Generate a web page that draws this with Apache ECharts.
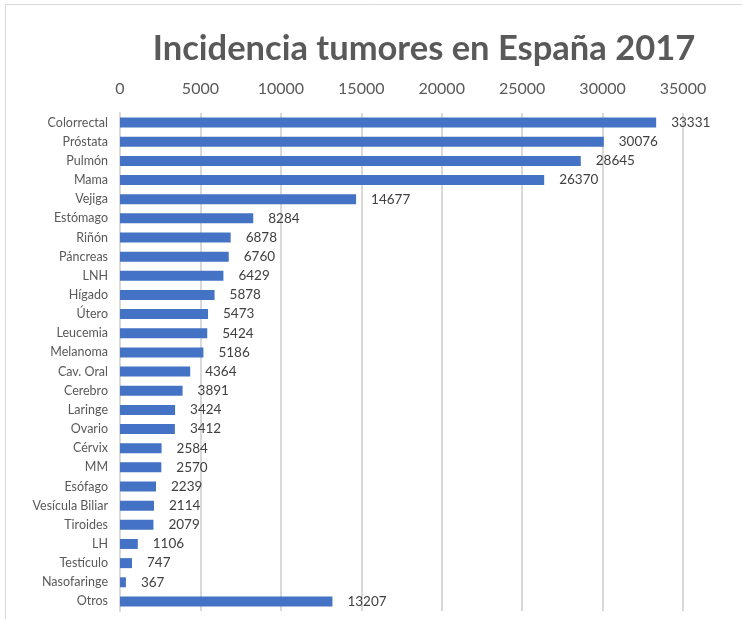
<!DOCTYPE html>
<html><head><meta charset="utf-8">
<script src="https://cdn.jsdelivr.net/npm/echarts@6/dist/echarts.min.js"></script>
<style>html,body{margin:0;padding:0;background:#fff}#c{width:742px;height:619px}</style>
</head><body><div id="c"></div>
<script>
const categories = ["Colorrectal","Próstata","Pulmón","Mama","Vejiga","Estómago","Riñón","Páncreas","LNH","Hígado","Útero","Leucemia","Melanoma","Cav. Oral","Cerebro","Laringe","Ovario","Cérvix","MM","Esófago","Vesícula Biliar","Tiroides","LH","Testículo","Nasofaringe","Otros"];
const values = [33331,30076,28645,26370,14677,8284,6878,6760,6429,5878,5473,5424,5186,4364,3891,3424,3412,2584,2570,2239,2114,2079,1106,747,367,13207];
const xTicks = [0,5000,10000,15000,20000,25000,30000,35000];
const title = "Incidencia tumores en España 2017";

const chart = echarts.init(document.getElementById('c'));
const font = 'Lato, "Open Sans", sans-serif';
chart.setOption({
  animation:false,
  title:{text:title,left:419,top:26,textAlign:'center',textStyle:{fontFamily:font,fontSize:34.5,fontWeight:'bold',color:'#595959'}},
  graphic:[{type:'rect',shape:{x:5.5,y:4.5,width:760,height:640},style:{fill:'none',stroke:'#d9d9d9',lineWidth:1}}],
  grid:{left:120,right:59,top:113,bottom:8,containLabel:false},
  xAxis:{type:'value',position:'top',min:xTicks[0],max:xTicks[xTicks.length-1],interval:5000,
    axisLine:{show:false},axisTick:{show:false},
    axisLabel:{fontFamily:font,fontSize:16,color:'#595959',margin:16,formatter:v=>String(v)},
    splitLine:{lineStyle:{color:'#d9d9d9',width:2}}},
  yAxis:{type:'category',data:categories,inverse:true,
    axisLine:{lineStyle:{color:'#d9d9d9',width:2}},axisTick:{show:false},
    axisLabel:{fontFamily:font,fontSize:12.5,color:'#595959',margin:12}},
  series:[{type:'bar',data:values,barWidth:10,itemStyle:{color:'#4472C4'},
    label:{show:true,position:'right',distance:15,fontFamily:font,fontSize:13.5,color:'#404040'}}]
});
</script></body></html>
